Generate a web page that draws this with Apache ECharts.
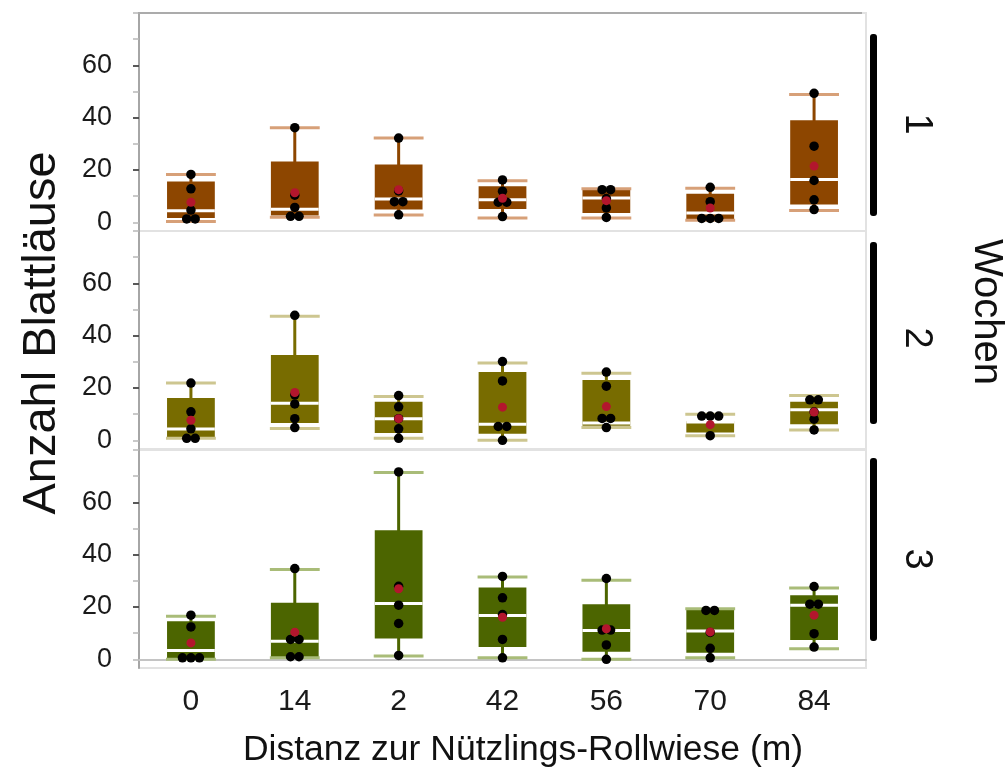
<!DOCTYPE html>
<html>
<head>
<meta charset="utf-8">
<script src="https://cdn.jsdelivr.net/npm/echarts@6/dist/echarts.min.js"></script>
<style>
  html, body { margin: 0; padding: 0; background: #fff; }
  #chart { width: 1008px; height: 769px; }
</style>
</head>
<body>
<div id="chart"></div>
<script>
// Distance categories (m), in the order they are plotted
const categories = ['0', '14', '2', '42', '56', '70', '84'];
const yTickLabels = [0, 20, 40, 60];
const yMinorTicks = [0, 10, 20, 30, 40, 50, 60, 70, 80];
const weekLabels = ['1', '2', '3'];

// Box statistics per distance: [lower whisker, Q1, median, Q3, upper whisker]
const boxWeek1 = [
  [0.3, 1.7, 4.4, 15.6, 18.3],
  [2.0, 2.6, 5.0, 23.3, 36.2],
  [2.8, 4.9, 8.9, 22.1, 32.2],
  [1.7, 5.1, 8.6, 13.8, 15.9],
  [1.7, 3.6, 9.3, 12.8, 12.8],
  [0.8, 0.8, 3.6, 10.9, 13.0],
  [4.5, 6.8, 16.4, 39.0, 48.9]
];
const boxWeek2 = [
  [0.8, 1.0, 4.3, 16.2, 21.9],
  [4.5, 6.6, 14.2, 32.6, 47.4],
  [0.8, 2.8, 8.3, 14.8, 16.8],
  [0.0, 2.5, 6.2, 26.1, 29.6],
  [4.9, 5.6, 6.6, 23.1, 25.6],
  [1.8, 3.0, 7.0, 7.3, 10.0],
  [4.0, 6.2, 11.7, 14.8, 17.1]
];
const boxWeek3 = [
  [0.0, 0.0, 3.4, 14.6, 16.5],
  [0.6, 0.6, 6.9, 21.6, 34.3],
  [1.3, 8.0, 21.3, 49.3, 71.4],
  [0.6, 4.7, 16.8, 27.5, 31.5],
  [0.0, 2.9, 11.0, 21.1, 30.2],
  [0.6, 2.5, 10.8, 19.3, 19.3],
  [4.1, 7.4, 20.7, 24.5, 27.3]
];

// Individual counts per distance
const pointsWeek1 = [
  [18.3, 12.8, 4.7, 1.3, 1.3],
  [36.2, 10.4, 5.7, 2.3, 2.3],
  [32.2, 12.0, 7.9, 7.9, 2.9],
  [16.2, 11.9, 7.7, 7.7, 2.2],
  [12.5, 12.5, 9.1, 5.5, 1.9],
  [13.4, 7.9, 1.5, 1.5, 1.5],
  [49.3, 29.1, 16.0, 8.6, 4.9]
];
const pointsWeek2 = [
  [21.9, 10.9, 4.4, 0.8, 0.8],
  [47.8, 17.4, 13.9, 8.3, 4.9],
  [17.1, 12.8, 8.3, 4.4, 0.8],
  [30.1, 22.7, 5.3, 5.3, 0.0],
  [26.1, 20.7, 8.4, 8.4, 4.9],
  [9.3, 9.3, 9.3, 1.8],
  [15.5, 15.5, 10.9, 8.1, 4.0]
];
const pointsWeek3 = [
  [16.9, 12.4, 0.6, 0.6, 0.6],
  [34.7, 7.6, 7.6, 1.0, 1.0],
  [71.6, 27.9, 20.7, 13.7, 1.5],
  [31.7, 23.5, 17.1, 7.6, 0.6],
  [30.9, 11.2, 11.2, 5.5, 0.0],
  [18.7, 18.7, 10.3, 4.2, 0.6],
  [27.8, 21.1, 21.1, 9.8, 4.7]
];

// Mean per distance
const meanWeek1 = [7.7, 11.3, 12.5, 9.2, 8.3, 5.5, 21.5];
const meanWeek2 = [7.7, 18.3, 8.3, 12.7, 12.9, 6.0, 10.8];
const meanWeek3 = [6.3, 10.4, 27.0, 16.1, 11.7, 10.5, 16.9];

const weeks = [
  { box: boxWeek1, points: pointsWeek1, mean: meanWeek1, fill: '#8d4600', cap: '#d7a078' },
  { box: boxWeek2, points: pointsWeek2, mean: meanWeek2, fill: '#786c00', cap: '#cdc690' },
  { box: boxWeek3, points: pointsWeek3, mean: meanWeek3, fill: '#4c6500', cap: '#a9bc78' }
];

const FONT = '"Liberation Sans", Arial, sans-serif';
const Y_MIN = -3.3, Y_MAX = 80;
const gridTops = [13, 231, 450];
const gridHeight = 218;

function boxRenderer(fill, cap) {
  return function (params, api) {
    const x = api.value(0);
    const lo = api.coord([x, api.value(1)]);
    const q1 = api.coord([x, api.value(2)]);
    const md = api.coord([x, api.value(3)]);
    const q3 = api.coord([x, api.value(4)]);
    const hi = api.coord([x, api.value(5)]);
    const band = api.size([1, 0])[0];
    const bw = band * 0.46, cw = band * 0.48;
    const cx = lo[0];
    return {
      type: 'group',
      children: [
        { type: 'line', shape: { x1: cx, y1: hi[1], x2: cx, y2: lo[1] },
          style: { stroke: fill, lineWidth: 3 } },
        { type: 'rect', shape: { x: cx - bw / 2, y: q3[1], width: bw, height: Math.max(q1[1] - q3[1], 1) },
          style: { fill: fill } },
        { type: 'line', shape: { x1: cx - bw / 2, y1: md[1], x2: cx + bw / 2, y2: md[1] },
          style: { stroke: '#ffffff', lineWidth: 3 } },
        { type: 'line', shape: { x1: cx - cw / 2, y1: hi[1], x2: cx + cw / 2, y2: hi[1] },
          style: { stroke: cap, lineWidth: 3 } },
        { type: 'line', shape: { x1: cx - cw / 2, y1: lo[1], x2: cx + cw / 2, y2: lo[1] },
          style: { stroke: cap, lineWidth: 3 } }
      ]
    };
  };
}

// Spread equal counts side by side so every dot stays visible
function dotData(points) {
  const out = [];
  points.forEach(function (vals, ci) {
    const groups = {};
    vals.forEach(function (v) { (groups[v] = groups[v] || []).push(v); });
    Object.keys(groups).forEach(function (k) {
      const g = groups[k];
      g.forEach(function (v, j) {
        out.push({ value: [ci, v], symbolOffset: [(j - (g.length - 1) / 2) * 8.5, 0] });
      });
    });
  });
  return out;
}

const grids = [], xAxes = [], yAxes = [], series = [];
weeks.forEach(function (w, i) {
  grids.push({
    left: 139, right: 142, top: gridTops[i], height: gridHeight,
    show: true, borderColor: '#e2e2e2', borderWidth: 2, backgroundColor: 'transparent'
  });
  const isBottom = i === weeks.length - 1;
  xAxes.push({
    type: 'category', gridIndex: i, data: categories, boundaryGap: true,
    axisLine: { show: isBottom, lineStyle: { color: '#c4c4c4', width: 2 } },
    axisTick: { show: false },
    axisLabel: { show: isBottom, fontSize: 30, color: '#1a1a1a', fontFamily: FONT, margin: 19 },
    splitLine: { show: false }
  });
  yAxes.push({
    type: 'value', gridIndex: i, min: Y_MIN, max: Y_MAX, position: 'left',
    axisLine: { show: true, lineStyle: { color: '#a6a6a6', width: 2 } },
    axisTick: { show: true, customValues: yMinorTicks, length: 6, lineStyle: { color: '#b8b8b8', width: 1.5 } },
    axisLabel: { show: true, customValues: yTickLabels, fontSize: 27, color: '#1a1a1a', fontFamily: FONT, margin: 27 },
    splitLine: { show: false }
  });
  series.push({
    type: 'custom', xAxisIndex: i, yAxisIndex: i, z: 2,
    renderItem: boxRenderer(w.fill, w.cap),
    encode: { x: 0, y: [1, 2, 3, 4, 5] },
    data: w.box.map(function (b, ci) { return [ci].concat(b); }),
    silent: true
  });
  series.push({
    type: 'scatter', xAxisIndex: i, yAxisIndex: i, z: 3,
    symbol: 'circle', symbolSize: 9.5, itemStyle: { color: '#000', opacity: 1 },
    data: dotData(w.points), silent: true
  });
  series.push({
    type: 'scatter', xAxisIndex: i, yAxisIndex: i, z: 4,
    symbol: 'circle', symbolSize: 9, itemStyle: { color: '#b3162d', opacity: 1 },
    data: w.mean.map(function (m, ci) { return [ci, m]; }), silent: true
  });
});
// darker ticks at the labelled values, on the same left axis line
weeks.forEach(function (w, i) {
  yAxes.push({
    type: 'value', gridIndex: i, min: Y_MIN, max: Y_MAX, position: 'left', offset: 0,
    axisLine: { show: false },
    axisTick: { show: true, customValues: [20, 40, 60], length: 6, lineStyle: { color: '#333', width: 1.5 } },
    axisLabel: { show: false },
    splitLine: { show: false }
  });
});

const bars = [[34, 182], [242, 182], [458, 183]];
const weekY = [124, 338, 559];
const graphics = [
  { type: 'line', shape: { x1: 138, y1: 13, x2: 862, y2: 13 }, style: { stroke: '#ababab', lineWidth: 2 }, z: 10 }
];
bars.forEach(function (b, i) {
  graphics.push({ type: 'rect', shape: { x: 870, y: b[0], width: 7, height: b[1], r: 3 }, style: { fill: '#000' } });
  graphics.push({
    type: 'text', x: 916, y: weekY[i], rotation: -Math.PI / 2,
    style: { text: weekLabels[i], font: '38px ' + FONT, fill: '#111', textAlign: 'center', textVerticalAlign: 'middle' }
  });
});
graphics.push({
  type: 'text', x: 986, y: 312, rotation: -Math.PI / 2,
  style: { text: 'Wochen', font: '40px ' + FONT, fill: '#111', textAlign: 'center', textVerticalAlign: 'middle' }
});
graphics.push({
  type: 'text', x: 42, y: 333, rotation: Math.PI / 2,
  style: { text: 'Anzahl Blattläuse', font: '47px ' + FONT, fill: '#111', textAlign: 'center', textVerticalAlign: 'middle' }
});
graphics.push({
  type: 'text', x: 523, y: 750,
  style: { text: 'Distanz zur Nützlings-Rollwiese (m)', font: '35.5px ' + FONT, fill: '#111', textAlign: 'center', textVerticalAlign: 'middle' }
});

const chart = echarts.init(document.getElementById('chart'), null, { renderer: 'canvas' });
chart.setOption({
  animation: false,
  backgroundColor: '#ffffff',
  grid: grids,
  xAxis: xAxes,
  yAxis: yAxes,
  series: series,
  graphic: graphics
});
</script>
</body>
</html>
